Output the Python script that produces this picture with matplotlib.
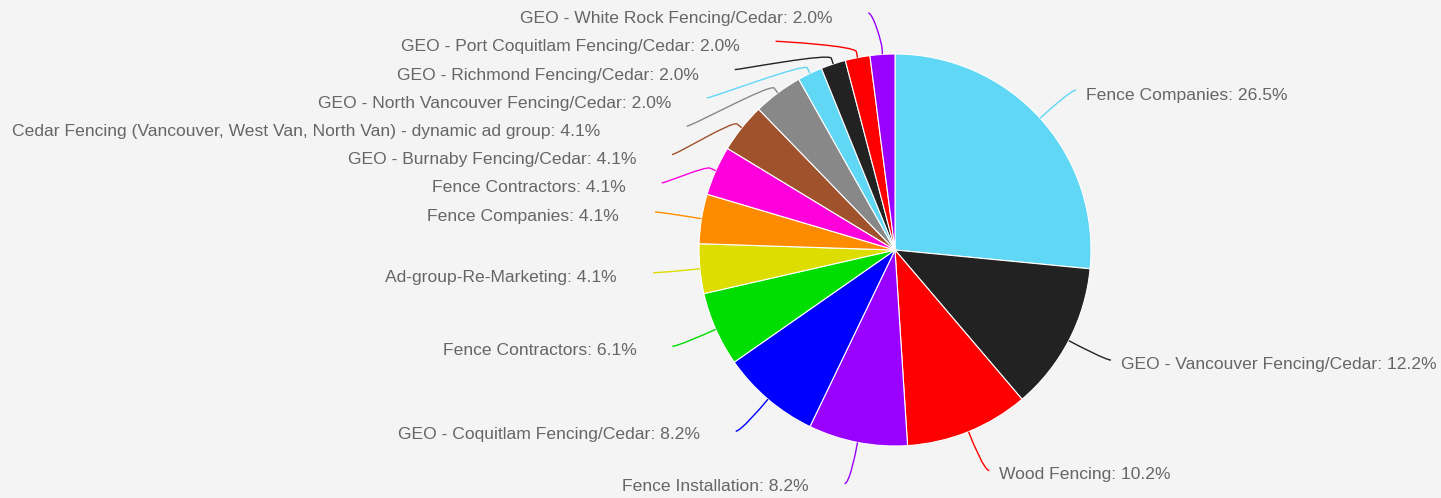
import numpy as np
import matplotlib
matplotlib.use("Agg")
import matplotlib.pyplot as plt
from matplotlib.path import Path
from matplotlib.patches import PathPatch

labels = ['Fence Companies', 'GEO - Vancouver Fencing/Cedar', 'Wood Fencing',
          'Fence Installation', 'GEO - Coquitlam Fencing/Cedar', 'Fence Contractors',
          'Ad-group-Re-Marketing', 'Fence Companies', 'Fence Contractors',
          'GEO - Burnaby Fencing/Cedar',
          'Cedar Fencing (Vancouver, West Van, North Van) - dynamic ad group',
          'GEO - North Vancouver Fencing/Cedar', 'GEO - Richmond Fencing/Cedar',
          'GEO - Port Coquitlam Fencing/Cedar', 'GEO - White Rock Fencing/Cedar']
counts = [13, 6, 5, 4, 4, 3, 2, 2, 2, 2, 2, 1, 1, 1, 1]
colors = ['#5fd7f5', '#222222', '#ff0000', '#9900ff', '#0000ff', '#00dd00',
          '#dddd00', '#ff8c00', '#ff00dd', '#a0522d', '#888888',
          '#5fd7f5', '#222222', '#ff0000', '#9900ff']

W, H = 1441, 498
BG = '#f4f4f4'
TEXT = '#666666'
FS = 12.6
plt.rcParams['font.family'] = ['Liberation Sans', 'DejaVu Sans']

# layout in image pixels (y down)
cx, cy, r = 895, 250, 196
lab_r = 238
pad = 5
row_h = 28.3


def distribute(targets, size, lo, hi):
    order = np.argsort(targets)
    boxes = [[int(i)] for i in order]
    while True:
        pos = []
        for b in boxes:
            t = np.mean([targets[i] - k * size for k, i in enumerate(b)])
            pos.append(min(max(t, lo), hi - (len(b) - 1) * size))
        for j in range(len(boxes) - 1):
            if pos[j] + len(boxes[j]) * size > pos[j + 1]:
                boxes[j] = boxes[j] + boxes.pop(j + 1)
                break
        else:
            break
    out = {}
    for b, p in zip(boxes, pos):
        for k, i in enumerate(b):
            out[i] = p + k * size
    return out


fig = plt.figure(figsize=(W / 100, H / 100), dpi=100, facecolor=BG)
ax = fig.add_axes([0, 0, 1, 1])
ax.set_facecolor(BG)

ax.pie(counts, colors=colors, startangle=90, counterclock=False,
       center=(cx, H - cy), radius=r,
       wedgeprops=dict(edgecolor='white', linewidth=0.8))

ax.set_xlim(0, W)
ax.set_ylim(0, H)
ax.set_aspect('equal')
ax.axis('off')

total = sum(counts)
cum = np.cumsum([0] + counts)
mids = (cum[:-1] + np.array(counts) / 2) / total * 2 * np.pi  # clockwise from top
left = [m > np.pi for m in mids]
nat_y = cy - lab_r * np.cos(mids)

final_y = {}
for side in (True, False):
    idx = [i for i in range(len(counts)) if left[i] == side]
    res = distribute([nat_y[i] for i in idx], row_h, 13, 490)
    for k, i in enumerate(idx):
        final_y[i] = res[k]

renderer = fig.canvas.get_renderer()
for i, (name, c) in enumerate(zip(labels, counts)):
    y = final_y[i]
    s = -1 if left[i] else 1
    dy = np.clip((y - cy) / lab_r, -1, 1)
    x = cx + s * (np.cos(np.arcsin(dy)) * lab_r + pad)
    th = mids[i]
    touch = (cx + r * np.sin(th), cy - r * np.cos(th))
    brk = (cx + (r + 6) * np.sin(th), cy - (r + 6) * np.cos(th))
    verts = [(x, y), (x - s * 5, y),
             (2 * brk[0] - touch[0], 2 * brk[1] - touch[1]), brk, touch]
    verts = [(vx, H - vy) for vx, vy in verts]
    codes = [Path.MOVETO, Path.CURVE4, Path.CURVE4, Path.CURVE4, Path.LINETO]
    ax.add_patch(PathPatch(Path(verts, codes), facecolor='none',
                           edgecolor=colors[i], linewidth=1.0))
    txt = f'{name}: {100 * c / total:.1f}%'
    ty = H - (y + 9 - 0.005 * (y - cy))
    if left[i]:
        t = ax.text(x - 36, ty, txt, ha='right', va='baseline',
                    fontsize=FS, color=TEXT)
        # labels that run close to the left edge are pinned to the margin
        if t.get_window_extent(renderer).x0 < 80:
            t.set_ha('left')
            t.set_x(12)
    else:
        ax.text(x + 10, ty, txt, ha='left', va='baseline',
                fontsize=FS, color=TEXT)

fig.savefig('out.png', dpi=100, facecolor=BG)
